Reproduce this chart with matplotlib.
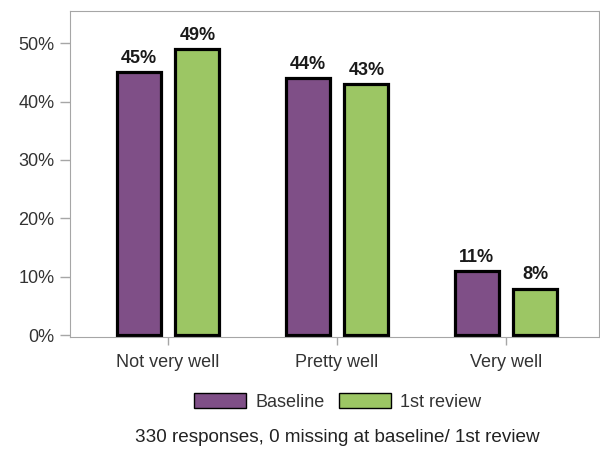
import matplotlib.pyplot as plt
import numpy as np
from matplotlib.patches import Patch

plt.rcParams['font.family'] = ['Liberation Sans', 'DejaVu Sans']

categories = ["Not very well", "Pretty well", "Very well"]
baseline = [45, 44, 11]
review = [49, 43, 8]
series_names = ["Baseline", "1st review"]

PURPLE = "#7f4f87"
GREEN = "#9cc664"
GRAY = "#a6a6a6"
FS = 13

fig = plt.figure(figsize=(6, 4.49), dpi=100)
ax = fig.add_axes([0.1167, 0.2494, 0.8816, 0.7261])

x = np.arange(len(categories))
w = 0.26
off = 0.174
b1 = ax.bar(x - off, baseline, w, color=PURPLE, edgecolor="black", linewidth=2.3)
b2 = ax.bar(x + off, review, w, color=GREEN, edgecolor="black", linewidth=2.3)

for bars, vals in ((b1, baseline), (b2, review)):
    for r, v in zip(bars, vals):
        ax.text(r.get_x() + r.get_width() / 2, v + 1.55, f"{v}%", ha="center", va="baseline",
                fontsize=FS, fontweight="bold", color="#1a1a1a")

ax.set_xlim(-0.58, 2.55)
ax.set_ylim(-0.3, 55.5)
ax.set_yticks([0, 10, 20, 30, 40, 50])
ax.set_yticklabels([f"{t}%" for t in [0, 10, 20, 30, 40, 50]])
ax.set_xticks(x)
ax.set_xticklabels(categories)
for s in ax.spines.values():
    s.set_color(GRAY)
ax.tick_params(colors=GRAY, labelcolor="#333333", labelsize=FS, width=1)
ax.tick_params(axis="y", length=7, pad=4)
ax.tick_params(axis="x", length=6, pad=6)

handles = [Patch(facecolor=PURPLE, edgecolor="black", label=series_names[0]),
           Patch(facecolor=GREEN, edgecolor="black", label=series_names[1])]
fig.legend(handles=handles, loc="center", bbox_to_anchor=(0.563, 1 - 402 / 449), ncol=2,
           frameon=False, fontsize=FS, handlelength=2.9, handleheight=0.9, columnspacing=0.8,
           handletextpad=0.5, labelcolor="#333333")
fig.text(0.562, 1 - 437 / 449, "330 responses, 0 missing at baseline/ 1st review",
         ha="center", va="center", fontsize=13.6, color="#222222")

fig.savefig("out.png", dpi=100)
